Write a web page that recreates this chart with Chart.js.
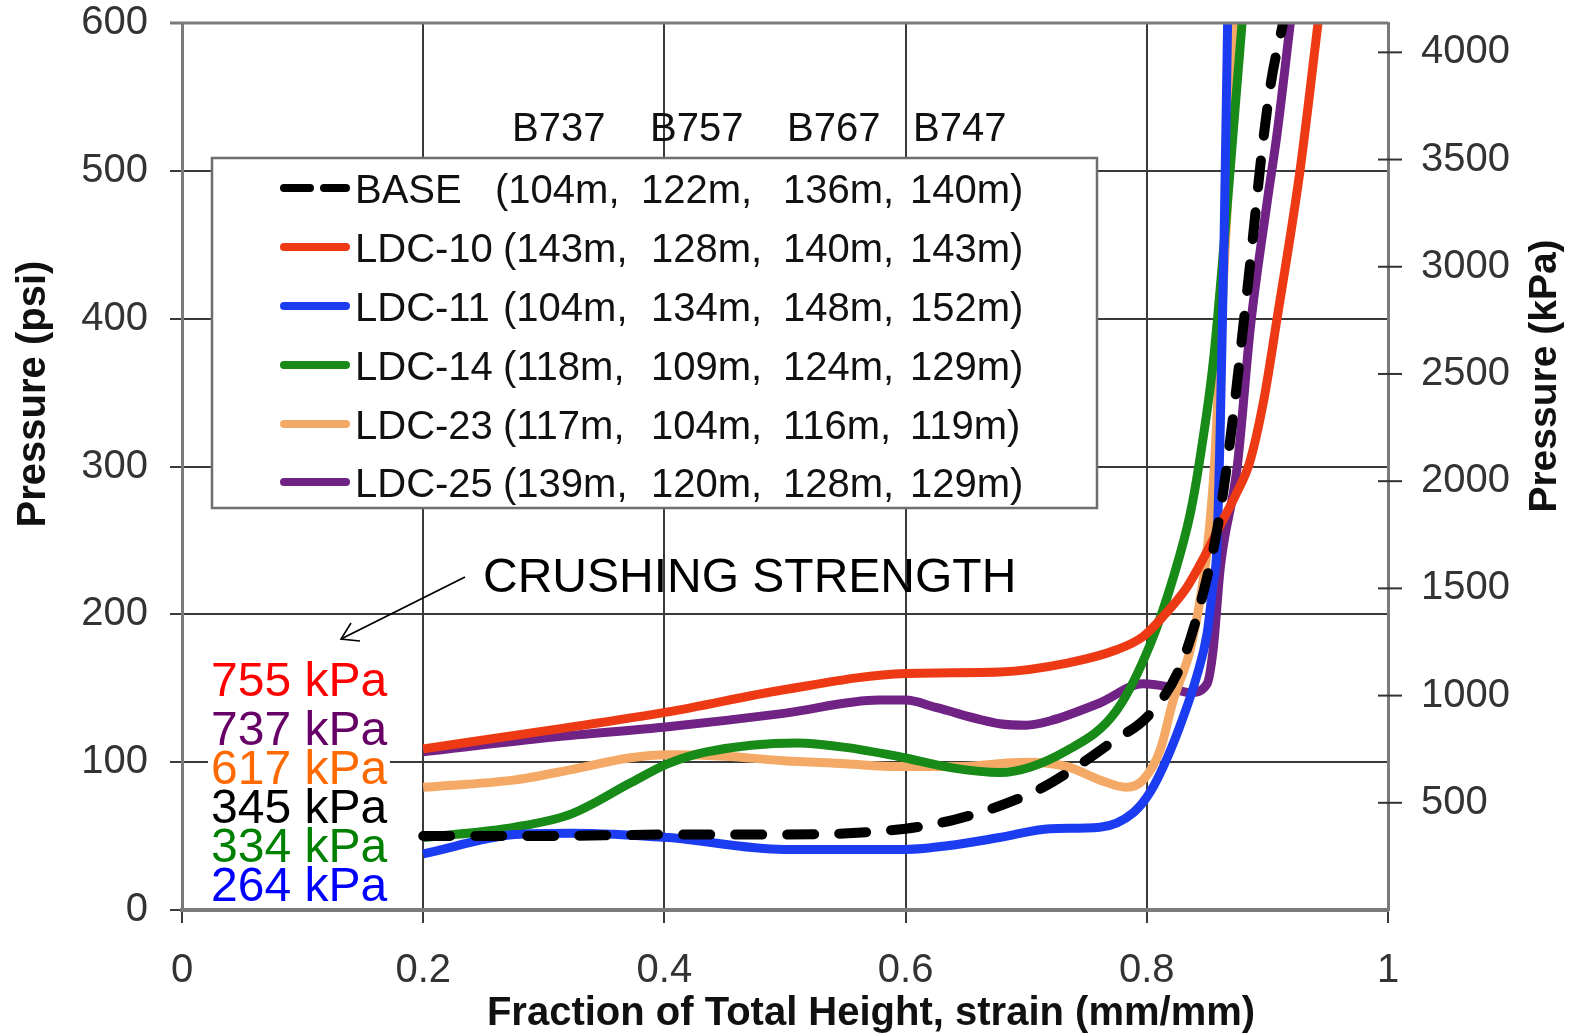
<!DOCTYPE html>
<html><head><meta charset="utf-8">
<script src="https://cdn.jsdelivr.net/npm/chart.js@4.4.1/dist/chart.umd.min.js"></script>
<style>html,body{margin:0;padding:0;background:#fff}#wrap{width:1570px;height:1036px;position:relative}</style>
</head><body><div id="wrap"><canvas id="c" width="1570" height="1036"></canvas></div>
<script>
// ---------- data ----------
const xTickValues = [0, 0.2, 0.4, 0.6, 0.8, 1];
const xTickLabels = ['0', '0.2', '0.4', '0.6', '0.8', '1'];
const psiTickValues = [0, 100, 200, 300, 400, 500, 600];
const psiTickLabels = ['0', '100', '200', '300', '400', '500', '600'];
const kpaTickValues = [500, 1000, 1500, 2000, 2500, 3000, 3500, 4000];
const PSI_TO_KPA = 6.894757;

const seriesNames = ['BASE', 'LDC-10', 'LDC-11', 'LDC-14', 'LDC-23', 'LDC-25'];
const aircraft = ['B737', 'B757', 'B767', 'B747'];
const depthBASE = [104, 122, 136, 140];
const depthLDC10 = [143, 128, 140, 143];
const depthLDC11 = [104, 134, 148, 152];
const depthLDC14 = [118, 109, 124, 129];
const depthLDC23 = [117, 104, 116, 119];
const depthLDC25 = [139, 120, 128, 129];
const crushKpa = [345, 755, 264, 334, 617, 737]; // same order as seriesNames

const baseX = [0.2,0.3,0.4,0.5,0.6,0.64,0.68,0.714,0.742,0.77,0.803,0.828,0.846,0.86,0.871,0.88,0.888,0.895,0.903,0.913];
const baseY = [50,50,51,51,55,61,71,83,97,113,133,165,212,265,330,395,455,510,560,600];
const ldc10X = [0.2,0.308,0.403,0.499,0.6,0.678,0.734,0.775,0.797,0.815,0.833,0.847,0.862,0.875,0.885,0.897,0.908,0.927,0.942];
const ldc10Y = [109,122,134,149,160,161,167,176,185,200,218,238,262,283,302,345,400,500,600];
const ldc11X = [0.2,0.276,0.323,0.403,0.499,0.6,0.64,0.678,0.72,0.761,0.789,0.803,0.817,0.83,0.841,0.85,0.855,0.858,0.861,0.864,0.867];
const ldc11Y = [38,51,52,49,41,41,44,49,55,56,66,80,103,130,157,187,221,243,330,450,600];
const ldc14X = [0.2,0.276,0.323,0.372,0.403,0.435,0.51,0.55,0.593,0.64,0.678,0.734,0.775,0.803,0.822,0.836,0.844,0.855,0.864,0.872,0.879];
const ldc14Y = [49,56,65,86,99,107,113,110,104,96,93,108,135,180,225,268,305,370,450,530,600];
const ldc23X = [0.2,0.276,0.323,0.372,0.403,0.45,0.499,0.55,0.593,0.64,0.7,0.734,0.761,0.783,0.797,0.811,0.822,0.836,0.844,0.85,0.856,0.862,0.867,0.873];
const ldc23Y = [83,88,95,103,105,104,101,99,97,97,100,97,88,83,88,108,142,176,209,243,300,400,480,600];
const ldc25X = [0.2,0.308,0.403,0.499,0.578,0.6,0.625,0.678,0.7,0.72,0.761,0.797,0.817,0.836,0.85,0.855,0.861,0.875,0.886,0.9,0.908,0.919];
const ldc25Y = [107,117,124,133,142,142,137,126,125,128,140,153,151,147,153,176,232,300,395,480,525,600];

// ---------- styles ----------
const FONT = '"Liberation Sans", Arial, Helvetica, sans-serif';
const lineColors = ['#000000', '#ee3a14', '#1c3cf2', '#178a17', '#f4aa66', '#702384'];
const labelColors = ['#000000', '#ff0000', '#0000ff', '#008000', '#ff6a00', '#660066'];
const depthRows = [depthBASE, depthLDC10, depthLDC11, depthLDC14, depthLDC23, depthLDC25];
const xs = [baseX, ldc10X, ldc11X, ldc14X, ldc23X, ldc25X];
const ys = [baseY, ldc10Y, ldc11Y, ldc14Y, ldc23Y, ldc25Y];

const datasets = seriesNames.map((name, k) => ({
  label: name,
  data: xs[k].map((x, i) => ({x: x, y: ys[k][i]})),
  borderColor: lineColors[k],
  backgroundColor: lineColors[k],
  borderWidth: k === 0 ? 10 : 9,
  borderDash: k === 0 ? [27, 25] : [],
  borderCapStyle: k === 0 ? 'round' : 'butt',
  pointRadius: 0,
  fill: false,
  cubicInterpolationMode: 'monotone',
  clip: 0,
  order: k === 0 ? 0 : 1
}));

const GRID = '#3a3a3a';
const AXIS = '#7a7a7a';

const decor = {
  id: 'decor',
  afterDatasetsDraw(chart) {
    const ctx = chart.ctx;
    const ca = chart.chartArea;
    const y2 = chart.scales.y2;
    ctx.save();
    // top frame line
    ctx.strokeStyle = AXIS; ctx.lineWidth = 3;
    ctx.beginPath(); ctx.moveTo(ca.left - 12, ca.top); ctx.lineTo(ca.right, ca.top); ctx.stroke();
    // right axis crosses
    ctx.strokeStyle = '#333'; ctx.lineWidth = 2;
    kpaTickValues.forEach(v => {
      const py = y2.getPixelForValue(v);
      ctx.beginPath(); ctx.moveTo(ca.right - 10, py); ctx.lineTo(ca.right + 14, py); ctx.stroke();
    });

    // legend box
    ctx.fillStyle = '#fff';
    ctx.fillRect(212, 158, 885, 350);
    ctx.strokeStyle = '#6e6e6e'; ctx.lineWidth = 2.5;
    ctx.strokeRect(212, 158, 885, 350);
    const rowY = [192, 251, 310, 369, 428, 486];
    ctx.textBaseline = 'middle';
    ctx.font = '40px ' + FONT;
    seriesNames.forEach((name, k) => {
      const ry = rowY[k];
      ctx.save();
      ctx.strokeStyle = lineColors[k];
      ctx.lineWidth = 8;
      ctx.lineCap = 'round';
      if (k === 0) { ctx.setLineDash([26, 14]); }
      ctx.beginPath(); ctx.moveTo(284, ry - 4); ctx.lineTo(346, ry - 4); ctx.stroke();
      ctx.restore();
      ctx.fillStyle = '#111';
      ctx.textAlign = 'left';
      const d = depthRows[k];
      ctx.fillText(name, 355, ry);
      ctx.fillText('(' + d[0] + 'm,', k === 0 ? 495 : 503, ry);
      ctx.fillText(d[1] + 'm,', k === 0 ? 641 : 651, ry);
      ctx.fillText(d[2] + 'm,', 783, ry);
      ctx.fillText(d[3] + 'm)', 910, ry);
    });
    // header aircraft
    ctx.fillStyle = '#111';
    const acX = [512, 650, 787, 913];
    aircraft.forEach((a, i) => ctx.fillText(a, acX[i], 130));

    // crushing strength labels
    ctx.fillStyle = '#fff';
    ctx.fillRect(208, 660, 182, 245);
    ctx.font = '48px ' + FONT;
    const order = seriesNames.map((n, k) => k).sort((a, b) => crushKpa[b] - crushKpa[a]);
    const labY = [683, 732, 771, 810, 849, 888];
    order.forEach((k, i) => {
      ctx.fillStyle = labelColors[k];
      ctx.fillText(crushKpa[k] + ' kPa', 211, labY[i]);
    });
    ctx.fillStyle = '#000';
    ctx.fillText('CRUSHING STRENGTH', 483, 579);
    // arrow
    ctx.strokeStyle = '#000'; ctx.lineWidth = 1.6;
    ctx.beginPath(); ctx.moveTo(465, 577); ctx.lineTo(341, 639); ctx.stroke();
    ctx.beginPath(); ctx.moveTo(351, 623); ctx.lineTo(341, 639); ctx.lineTo(360, 641); ctx.stroke();

    // axis titles
    ctx.font = 'bold 40px ' + FONT;
    ctx.fillStyle = '#111';
    ctx.textAlign = 'center';
    ctx.save(); ctx.translate(34, 394); ctx.rotate(-Math.PI / 2); ctx.fillText('Pressure (psi)', 0, 0); ctx.restore();
    ctx.font = 'bold 39px ' + FONT;
    ctx.save(); ctx.translate(1545, 376); ctx.rotate(-Math.PI / 2); ctx.fillText('Pressure (kPa)', 0, 0); ctx.restore();
    ctx.font = 'bold 40px ' + FONT;
    ctx.fillText('Fraction of Total Height, strain (mm/mm)', 871, 1014);
    ctx.restore();
  }
};

const bg = {
  id: 'bg',
  beforeDraw(chart) {
    const ctx = chart.ctx;
    ctx.save(); ctx.fillStyle = '#fff'; ctx.fillRect(0, 0, chart.width, chart.height); ctx.restore();
  }
};

const tickFont = {family: FONT, size: 40};
function zeroPad(s) { s.paddingTop = 0; s.paddingBottom = 0; s.paddingLeft = 0; s.paddingRight = 0; }

new Chart(document.getElementById('c'), {
  type: 'line',
  data: {datasets: datasets},
  options: {
    responsive: false,
    animation: false,
    devicePixelRatio: 1,
    layout: {padding: {top: 23, left: 0, right: 0, bottom: 0}},
    plugins: {legend: {display: false}, tooltip: {enabled: false}, title: {display: false}},
    scales: {
      x: {
        type: 'linear', position: 'bottom', min: 0, max: 1,
        afterBuildTicks: s => { s.ticks = xTickValues.map(v => ({value: v})); },
        afterFit: s => { s.height = 126; zeroPad(s); },
        ticks: {font: tickFont, color: '#333', padding: 24, maxRotation: 0,
                callback: (v, i) => xTickLabels[i]},
        grid: {color: GRID, lineWidth: 2, tickLength: 13, tickColor: GRID, tickWidth: 2},
        border: {display: true, color: AXIS, width: 4}
      },
      y: {
        type: 'linear', position: 'left', min: 0, max: 600,
        afterBuildTicks: s => { s.ticks = psiTickValues.map(v => ({value: v})); },
        afterFit: s => { s.width = 182; zeroPad(s); },
        ticks: {font: tickFont, color: '#333', padding: 22,
                callback: (v, i) => psiTickLabels[i]},
        grid: {color: GRID, lineWidth: 2, tickLength: 12, tickColor: GRID, tickWidth: 2},
        border: {display: true, color: AXIS, width: 3}
      },
      y2: {
        type: 'linear', position: 'right', min: 0, max: 600 * PSI_TO_KPA,
        afterBuildTicks: s => { s.ticks = kpaTickValues.map(v => ({value: v})); },
        afterFit: s => { s.width = 182; zeroPad(s); },
        ticks: {font: tickFont, color: '#333', padding: 33,
                callback: (v) => String(v)},
        grid: {drawOnChartArea: false, drawTicks: false},
        border: {display: true, color: AXIS, width: 3}
      }
    }
  },
  plugins: [bg, decor]
});
</script></body></html>
